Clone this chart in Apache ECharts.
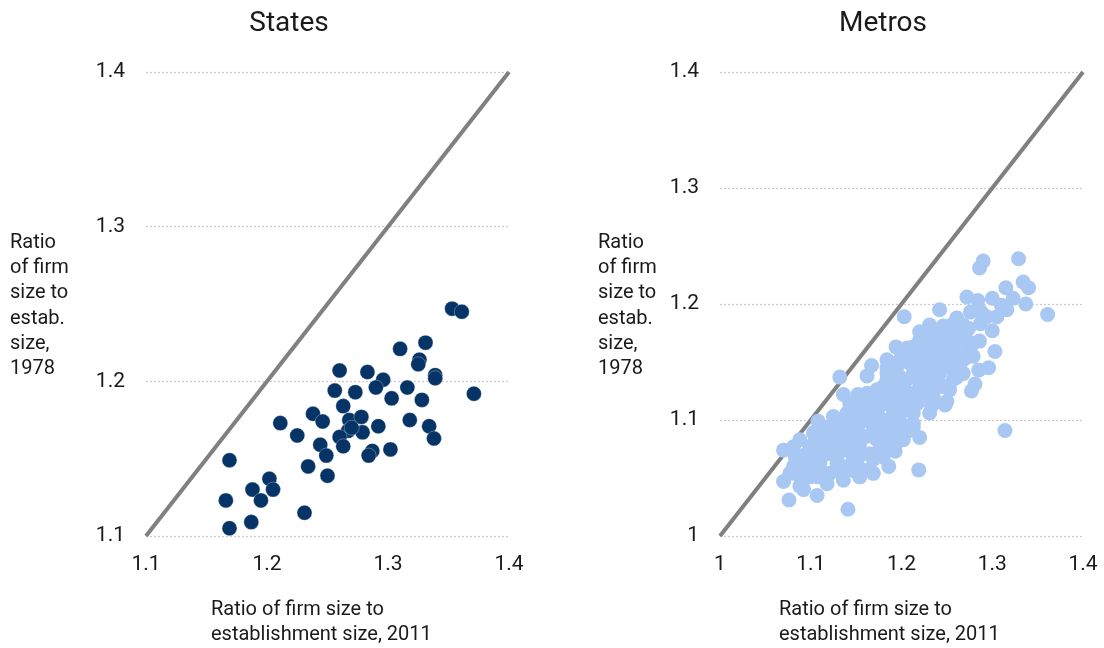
<!DOCTYPE html>
<html>
<head>
<meta charset="utf-8">
<style>
  html, body { margin: 0; padding: 0; background: #fff; }
  #chart { width: 1104px; height: 648px; }
</style>
<script src="https://cdn.jsdelivr.net/npm/echarts@6/dist/echarts.min.js"></script>
</head>
<body>
<div id="chart"></div>
<script>
// Panel titles and axis text
const panelTitles = ['States', 'Metros'];
const yAxisName = 'Ratio\nof firm\nsize to\nestab.\nsize,\n1978';
const xAxisName = 'Ratio of firm size to\nestablishment size, 2011';

// Axis ranges
const statesRange = [1.1, 1.4];
const metrosRange = [1.0, 1.4];
const tickStep = 0.1;

// States: ratio 2011 (x) and ratio 1978 (y)
const statesX = [1.353, 1.361, 1.310, 1.331, 1.326, 1.325, 1.339, 1.339, 1.371, 1.260,
  1.283, 1.296, 1.290, 1.316, 1.256, 1.273, 1.303, 1.328, 1.263, 1.238,
  1.246, 1.268, 1.278, 1.211, 1.292, 1.318, 1.334, 1.338, 1.225, 1.267,
  1.279, 1.260, 1.263, 1.244, 1.287, 1.284, 1.302, 1.249, 1.169, 1.234,
  1.250, 1.202, 1.205, 1.188, 1.195, 1.166, 1.231, 1.187, 1.169, 1.270];
const statesY = [1.247, 1.245, 1.221, 1.225, 1.214, 1.211, 1.204, 1.202, 1.192, 1.207,
  1.206, 1.201, 1.196, 1.196, 1.194, 1.193, 1.189, 1.188, 1.184, 1.179,
  1.174, 1.175, 1.177, 1.173, 1.171, 1.175, 1.171, 1.163, 1.165, 1.168,
  1.167, 1.164, 1.158, 1.159, 1.155, 1.152, 1.156, 1.152, 1.149, 1.145,
  1.139, 1.137, 1.130, 1.130, 1.123, 1.123, 1.115, 1.109, 1.105, 1.170];

// Metros: ratio 2011 (x) and ratio 1978 (y)
const metrosX = [1.290, 1.286, 1.329, 1.334, 1.340, 1.315, 1.272, 1.284, 1.300, 1.323,
  1.337, 1.316, 1.310, 1.361, 1.242, 1.203, 1.288, 1.276, 1.305, 1.261,
  1.231, 1.246, 1.268, 1.274, 1.300, 1.220, 1.220, 1.268, 1.279, 1.286,
  1.194, 1.206, 1.303, 1.242, 1.252, 1.261, 1.270, 1.217, 1.235, 1.167,
  1.184, 1.195, 1.209, 1.228, 1.250, 1.162, 1.285, 1.296, 1.268, 1.132,
  1.281, 1.277, 1.257, 1.235, 1.213, 1.198, 1.184, 1.136, 1.152, 1.173,
  1.193, 1.253, 1.248, 1.233, 1.220, 1.206, 1.182, 1.165, 1.143, 1.125,
  1.108, 1.140, 1.158, 1.176, 1.198, 1.213, 1.206, 1.220, 1.195, 1.193,
  1.184, 1.169, 1.154, 1.132, 1.116, 1.105, 1.070, 1.083, 1.096, 1.114,
  1.129, 1.143, 1.162, 1.176, 1.173, 1.163, 1.186, 1.219, 1.148, 1.134,
  1.121, 1.108, 1.088, 1.077, 1.070, 1.088, 1.092, 1.107, 1.076, 1.141,
  1.314, 1.147, 1.129, 1.110, 1.096, 1.151, 1.169, 1.140, 1.118, 1.099,
  1.125, 1.107, 1.154, 1.184, 1.162, 1.143, 1.125,
  1.198, 1.206, 1.217, 1.228, 1.235, 1.242, 1.220, 1.202, 1.213, 1.235,
  1.242, 1.257, 1.265, 1.217, 1.202, 1.228, 1.253, 1.235, 1.261, 1.287,
  1.257, 1.294, 1.176, 1.191, 1.173, 1.151, 1.132, 1.118, 1.103, 1.088,
  1.081, 1.088, 1.107, 1.125, 1.107, 1.132, 1.147, 1.169, 1.187, 1.198,
  1.184, 1.154, 1.169, 1.162, 1.180, 1.184, 1.206, 1.228, 1.235, 1.250,
  1.242, 1.272, 1.279, 1.257, 1.220, 1.191, 1.213, 1.118, 1.136, 1.158,
  1.184, 1.202, 1.081, 1.099, 1.118, 1.136, 1.154, 1.169, 1.180,
  1.110, 1.129, 1.147, 1.165, 1.184, 1.202, 1.220, 1.239, 1.257,
  1.099, 1.118, 1.136, 1.154, 1.173, 1.191, 1.209, 1.228, 1.246, 1.261,
  1.110, 1.129, 1.147, 1.165, 1.184, 1.198, 1.213, 1.231, 1.250,
  1.088, 1.140, 1.173, 1.206, 1.235, 1.253, 1.242, 1.217, 1.198, 1.154,
  1.121, 1.169, 1.187, 1.151,
  1.242, 1.257, 1.272, 1.228, 1.213, 1.198, 1.184];
const metrosY = [1.237, 1.231, 1.239, 1.219, 1.214, 1.214, 1.206, 1.203, 1.205, 1.205,
  1.200, 1.195, 1.199, 1.191, 1.195, 1.189, 1.193, 1.193, 1.189, 1.188,
  1.182, 1.181, 1.182, 1.179, 1.177, 1.176, 1.169, 1.170, 1.166, 1.168,
  1.163, 1.162, 1.159, 1.165, 1.162, 1.158, 1.153, 1.158, 1.156, 1.147,
  1.145, 1.146, 1.149, 1.152, 1.149, 1.138, 1.143, 1.145, 1.140, 1.137,
  1.131, 1.125, 1.135, 1.135, 1.140, 1.137, 1.135, 1.122, 1.122, 1.126,
  1.132, 1.126, 1.113, 1.112, 1.120, 1.123, 1.120, 1.117, 1.114, 1.103,
  1.099, 1.106, 1.106, 1.112, 1.114, 1.106, 1.090, 1.085, 1.081, 1.073,
  1.089, 1.094, 1.097, 1.094, 1.089, 1.083, 1.074, 1.068, 1.071, 1.077,
  1.080, 1.083, 1.086, 1.080, 1.071, 1.057, 1.060, 1.057, 1.056, 1.054,
  1.054, 1.051, 1.051, 1.054, 1.047, 1.043, 1.040, 1.035, 1.031, 1.023,
  1.091, 1.071, 1.066, 1.063, 1.060, 1.063, 1.066, 1.074, 1.071, 1.077,
  1.086, 1.091, 1.080, 1.100, 1.103, 1.097, 1.094,
  1.100, 1.109, 1.114, 1.126, 1.120, 1.129, 1.132, 1.129, 1.123, 1.143,
  1.140, 1.143, 1.149, 1.146, 1.155, 1.163, 1.172, 1.175, 1.178, 1.183,
  1.183, 1.189, 1.094, 1.106, 1.106, 1.106, 1.100, 1.094, 1.089, 1.083,
  1.077, 1.068, 1.071, 1.074, 1.057, 1.060, 1.089, 1.086, 1.094, 1.123,
  1.114, 1.112, 1.114, 1.123, 1.129, 1.140, 1.135, 1.140, 1.149, 1.158,
  1.169, 1.160, 1.155, 1.152, 1.158, 1.123, 1.094, 1.080, 1.086, 1.071,
  1.077, 1.083, 1.060, 1.051, 1.045, 1.048, 1.051, 1.054, 1.068,
  1.083, 1.091, 1.100, 1.109, 1.117, 1.126, 1.135, 1.143, 1.152,
  1.063, 1.071, 1.078, 1.086, 1.094, 1.103, 1.112, 1.120, 1.129, 1.137,
  1.057, 1.063, 1.066, 1.071, 1.080, 1.089, 1.097, 1.106, 1.116,
  1.068, 1.060, 1.083, 1.091, 1.114, 1.160, 1.166, 1.143, 1.137, 1.074,
  1.083, 1.120, 1.143, 1.114,
  1.152, 1.163, 1.169, 1.169, 1.163, 1.152, 1.152];

const statesColor = '#063466';
const metrosColor = '#a8c8f3';
const diagColor = '#808080';
const textColor = '#1a1a1a';
const fontFamily = 'Roboto, "Liberation Sans", sans-serif';

const zip = (xs, ys) => xs.map((x, i) => [x, ys[i]]);
const fmt = v => String(Math.round(v * 10) / 10);

function axisPair(range) {
  return {
    x: {
      type: 'value', min: range[0], max: range[1], interval: tickStep,
      axisLine: { show: false }, axisTick: { show: false }, splitLine: { show: false },
      axisLabel: { formatter: fmt, fontSize: 21, color: textColor, fontFamily: fontFamily, margin: 18 }
    },
    y: {
      type: 'value', min: range[0], max: range[1], interval: tickStep,
      axisLine: { show: false }, axisTick: { show: false },
      splitLine: { show: true, lineStyle: { color: '#cccccc', type: [2, 2], width: 1.3 } },
      axisLabel: { formatter: fmt, fontSize: 21, color: textColor, fontFamily: fontFamily, margin: 21 }
    }
  };
}

const a1 = axisPair(statesRange);
const a2 = axisPair(metrosRange);

const chart = echarts.init(document.getElementById('chart'), null, { renderer: 'canvas' });

function textBlock(left, top, text, size) {
  return {
    type: 'text', left: left, top: top,
    style: { text: text, font: size + 'px ' + fontFamily, fill: textColor, lineHeight: 25.3 }
  };
}

const diag = r => [[r[0], r[0]], [r[1], r[1]]];

chart.setOption({
  animation: false,
  backgroundColor: '#fff',
  title: [
    { text: panelTitles[0], left: 284, top: 5, textAlign: 'center',
      textStyle: { fontSize: 28, fontWeight: 'normal', color: textColor, fontFamily: fontFamily } },
    { text: panelTitles[1], left: 878, top: 5, textAlign: 'center',
      textStyle: { fontSize: 28, fontWeight: 'normal', color: textColor, fontFamily: fontFamily } }
  ],
  grid: [
    { left: 146, right: 595, top: 72, bottom: 112 },
    { left: 720, right: 21, top: 72, bottom: 112 }
  ],
  xAxis: [Object.assign({ gridIndex: 0 }, a1.x), Object.assign({ gridIndex: 1 }, a2.x)],
  yAxis: [Object.assign({ gridIndex: 0 }, a1.y), Object.assign({ gridIndex: 1 }, a2.y)],
  graphic: [
    textBlock(10, 230, yAxisName, 20),
    textBlock(598, 230, yAxisName, 20),
    textBlock(211, 597, xAxisName, 20),
    textBlock(779, 597, xAxisName, 20)
  ],
  series: [
    { type: 'line', xAxisIndex: 0, yAxisIndex: 0, data: diag(statesRange),
      symbol: 'none', lineStyle: { color: diagColor, width: 4 }, z: 1 },
    { type: 'line', xAxisIndex: 1, yAxisIndex: 1, data: diag(metrosRange),
      symbol: 'none', lineStyle: { color: diagColor, width: 4 }, z: 1 },
    { type: 'scatter', xAxisIndex: 0, yAxisIndex: 0, data: zip(statesX, statesY),
      symbolSize: 15, itemStyle: { color: statesColor, borderColor: '#fff', borderWidth: 0.3, opacity: 1 }, z: 3 },
    { type: 'scatter', xAxisIndex: 1, yAxisIndex: 1, data: zip(metrosX, metrosY),
      symbolSize: 15, itemStyle: { color: metrosColor, borderWidth: 0, opacity: 1 }, z: 3 }
  ]
});
</script>
</body>
</html>
